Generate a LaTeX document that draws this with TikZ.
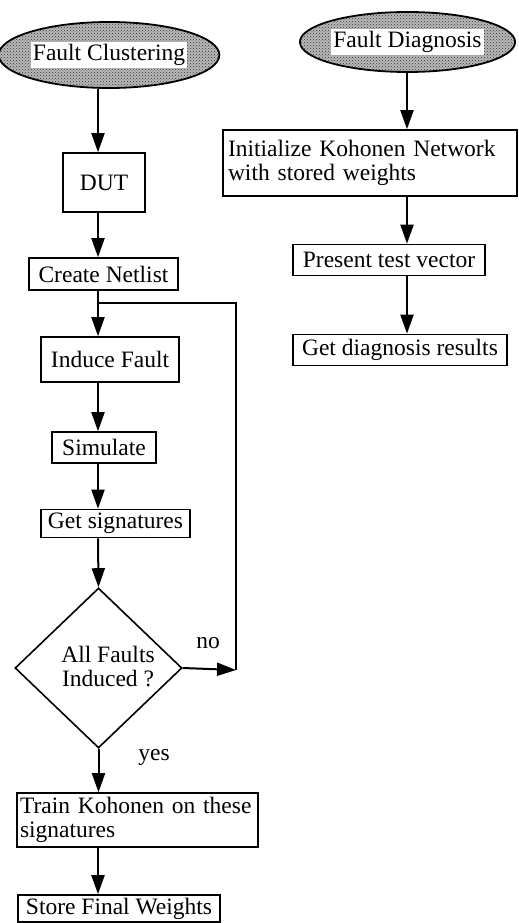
\documentclass[tikz,border=0pt]{standalone}
\usepackage{fontspec}
\setmainfont{Liberation Serif}
\usetikzlibrary{arrows.meta,shapes.geometric,patterns}
\newcommand{\fs}{\fontsize{23.5}{24}\selectfont}
\begin{document}
\begin{tikzpicture}[x=1pt,y=-1pt,
  box/.style={draw, line width=1.6pt, inner sep=0pt, font=\fs},
  mbox/.style={box, align=left},
  ell/.style={ellipse, draw, line width=1.8pt, preaction={fill=gray!55}, pattern=crosshatch dots, pattern color=black!80, inner sep=0pt, font=\fs},
  arr/.style={line width=2pt, -{Triangle[width=13pt,length=19pt]}},
  lbl/.style={font=\fs, inner sep=0pt}]
\useasboundingbox (0,0) rectangle (519,923);
\setlength{\fboxsep}{2pt}
% left column
\node[ell, minimum width=208, minimum height=66] (FC) at (109,55) {\colorbox{white}{Fault Clustering}};
\node[box, minimum width=82, minimum height=59] (DUT) at (104,182.5) {DUT};
\node[box, minimum width=149, minimum height=32] (CN) at (103.5,274) {Create Netlist};
\node[box, minimum width=138, minimum height=45] (IF) at (110,359.5) {Induce Fault};
\node[box, minimum width=104, minimum height=31] (SIM) at (104,447.5) {Simulate};
\node[box, minimum width=149, minimum height=28] (GS) at (115.5,523.5) {Get signatures};
\node[diamond, draw, line width=1.6pt, inner sep=0pt, aspect=1.04, minimum width=167, minimum height=160] (DIA) at (98.5,668) {};
\node[lbl, align=center] (DT) at (108,667) {All Faults\\Induced ?};
\node[lbl] (NO) at (208,643) {no};
\node[lbl] (YES) at (154,757) {yes};
\node[mbox, text width=235, inner xsep=3pt, minimum height=54] (TR) at (137.5,820) {Train Kohonen on these\\signatures};
\node[box, minimum width=202, minimum height=27] (ST) at (119,908.5) {Store Final Weights};
% right column
\node[ell, minimum width=209, minimum height=60] (FD) at (407.5,42) {\colorbox{white}{Fault Diagnosis}};
\node[mbox, text width=284, inner xsep=5pt, minimum height=66] (IN) at (370,163) {Initialize Kohonen Network\\with stored weights};
\node[box, minimum width=192, minimum height=31] (PT) at (389,260) {Present test vector};
\node[box, minimum width=214, minimum height=31] (GD) at (400,350) {Get diagnosis results};
% trunk coordinates
\coordinate (t) at (98,0);
\coordinate (r) at (407,0);
\coordinate (J) at (98,303);
\coordinate (K) at (236,670);
% left connectors
\draw[arr] (FC.south -| t) -- (DUT.north -| t);
\draw[arr] (DUT.south -| t) -- (CN.north -| t);
\draw[arr] (CN.south -| t) -- (IF.north -| t);
\draw[arr] (IF.south -| t) -- (SIM.north -| t);
\draw[arr] (SIM.south -| t) -- (GS.north -| t);
\draw[arr] (GS.south -| t) -- (DIA.north);
\draw[arr] (DIA.east) -- (K);
\draw[line width=1.5pt] (K) -- (K |- J) -- (J);
\draw[arr] (DIA.south) -- (TR.north -| DIA.south);
\draw[arr] (TR.south -| t) -- (ST.north -| t);
% right connectors
\draw[arr] (FD.south -| r) -- (IN.north -| r);
\draw[arr] (IN.south -| r) -- (PT.north -| r);
\draw[arr] (PT.south -| r) -- (GD.north -| r);
\end{tikzpicture}
\end{document}
